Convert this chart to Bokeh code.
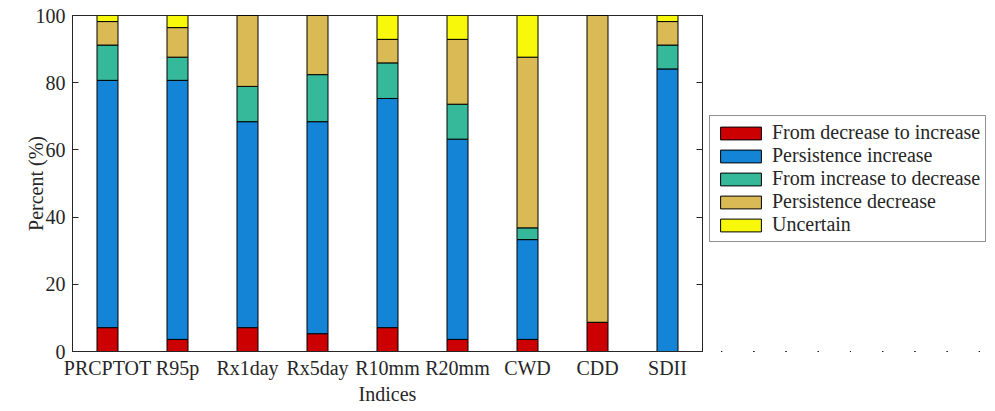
from bokeh.plotting import figure
from bokeh.layouts import row
from bokeh.models import Legend, LegendItem, LinearAxis, FixedTicker, ColumnDataSource, Range1d
from bokeh.embed import file_html
from bokeh.resources import INLINE

indices = ["PRCPTOT", "R95p", "Rx1day", "Rx5day", "R10mm", "R20mm", "CWD", "CDD", "SDII"]
dec_to_inc = [7.1, 3.6, 7.1, 5.3, 7.1, 3.6, 3.6, 8.7, 0.0]
persist_inc = [73.6, 77.1, 61.3, 63.1, 68.2, 59.6, 29.7, 0.0, 84.1]
inc_to_dec = [10.5, 6.9, 10.5, 14.0, 10.6, 10.4, 3.5, 0.0, 7.1]
persist_dec = [7.0, 8.8, 21.1, 17.6, 7.0, 19.3, 50.8, 91.3, 7.0]
uncertain = [1.8, 3.6, 0.0, 0.0, 7.1, 7.1, 12.4, 0.0, 1.8]
y_ticks = [0, 20, 40, 60, 80, 100]

series_names = ["From decrease to increase", "Persistence increase",
                "From increase to decrease", "Persistence decrease", "Uncertain"]
keys = ["dti", "pi", "itd", "pd", "unc"]
colors = ["#CC0000", "#1484D6", "#36B99B", "#D9BA55", "#F8F80A"]

src = ColumnDataSource(dict(idx=indices, dti=dec_to_inc, pi=persist_inc,
                            itd=inc_to_dec, pd=persist_dec, unc=uncertain))

FONT = "Liberation Serif"
AX = "#262626"

p = figure(x_range=indices, y_range=Range1d(0, 100),
           width=705, height=411,
           min_border_left=72, min_border_top=15, min_border_bottom=60, min_border_right=3,
           output_backend="svg", toolbar_location=None)
p.background_fill_color = "white"
p.border_fill_color = "white"
p.outline_line_color = AX
p.outline_line_width = 1
p.xgrid.visible = False
p.ygrid.visible = False

rs = p.vbar_stack(keys, x="idx", width=0.3, color=colors, source=src,
                  line_color="black", line_width=1)

# axes
p.yaxis.ticker = FixedTicker(ticks=y_ticks)
p.yaxis.minor_tick_line_color = None
p.yaxis.major_tick_in = 6
p.yaxis.major_tick_out = 0
p.yaxis.axis_line_color = AX
p.yaxis.major_tick_line_color = AX
p.yaxis.major_label_text_font = FONT
p.yaxis.major_label_text_font_size = "20px"
p.yaxis.major_label_text_color = AX
p.yaxis.major_label_standoff = 7
p.yaxis.axis_label = "Percent (%)"
p.yaxis.axis_label_text_font = FONT
p.yaxis.axis_label_text_font_size = "20px"
p.yaxis.axis_label_text_font_style = "normal"
p.yaxis.axis_label_text_color = AX
p.yaxis.axis_label_standoff = -14

p.xaxis.major_tick_in = 0
p.xaxis.major_tick_out = 0
p.xaxis.axis_line_color = AX
p.xaxis.major_label_text_font = FONT
p.xaxis.major_label_text_font_size = "20px"
p.xaxis.major_label_text_color = AX
p.xaxis.major_label_standoff = 5
p.xaxis.axis_label = "Indices"
p.xaxis.axis_label_text_font = FONT
p.xaxis.axis_label_text_font_size = "20px"
p.xaxis.axis_label_text_font_style = "normal"
p.xaxis.axis_label_text_color = AX
p.xaxis.axis_label_standoff = 1

ry = LinearAxis(ticker=FixedTicker(ticks=y_ticks), major_tick_in=6, major_tick_out=0,
                minor_tick_line_color=None, axis_line_color=AX, major_tick_line_color=AX,
                major_label_overrides={t: "" for t in y_ticks}, major_label_standoff=0)
p.add_layout(ry, "right")

# legend panel: same series styling; its bars are hair-thin and outside the visible range
p2 = figure(x_range=indices, y_range=Range1d(500, 600), width=290, height=411,
            min_border=0, output_backend="svg", toolbar_location=None)
p2.axis.visible = False
p2.xgrid.visible = False
p2.ygrid.visible = False
p2.outline_line_color = None
p2.background_fill_color = "white"
p2.border_fill_color = "white"
rs2 = p2.vbar_stack(keys, x="idx", width=0.0001, color=colors, source=src,
                    line_color="black", line_width=1)

items = [LegendItem(label=n, renderers=[r]) for n, r in zip(series_names, rs2)]
legend = Legend(items=items, location=(4, 109),
                label_text_font=FONT, label_text_font_size="20px", label_text_color=AX,
                glyph_width=51, glyph_height=16, label_height=16, spacing=0,
                padding=5, label_standoff=6, margin=0,
                border_line_color=AX, border_line_width=1,
                background_fill_color="white", background_fill_alpha=1)
p2.add_layout(legend, "center")

layout = row(p, p2, spacing=0)
open("out.html", "w").write(file_html(layout, INLINE))
